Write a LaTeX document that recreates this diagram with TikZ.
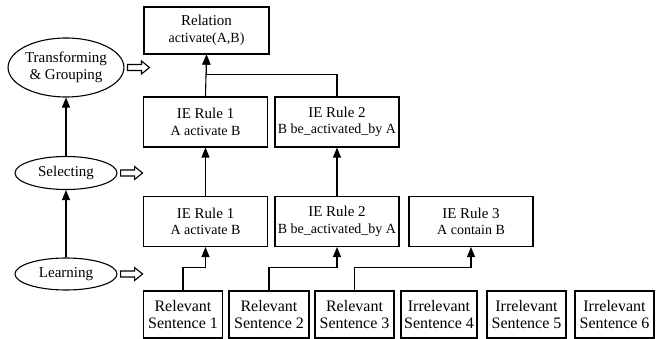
\documentclass[tikz,border=0pt]{standalone}
\usepackage{fontspec}
\setmainfont{Liberation Serif}
\usepackage{tikz}
\usetikzlibrary{calc}
\usetikzlibrary{arrows.meta}
\usetikzlibrary{shapes.geometric}

\tikzset{
	ruleBox/.style={draw, line width=1.1pt, minimum width=124pt, minimum height=50pt, align=center, inner sep=1pt, font=\fontsize{15}{16.5}\selectfont},
	sentBox/.style={draw, line width=1.1pt, minimum width=79pt, minimum height=47pt, align=center, inner sep=1pt, font=\fontsize{16}{17}\selectfont},
	stage/.style={draw, ellipse, line width=1.1pt, minimum width=102pt, inner sep=0pt, align=center, font=\fontsize{15}{17}\selectfont},
	link/.style={line width=1.1pt, -{Triangle[length=10pt,width=8pt]}},
	hollowArrow/.style={draw, line width=1.1pt, fill=white, line join=miter}
}
\newcommand{\subline}[1]{{\fontsize{14}{15}\selectfont #1}}

\begin{document}
\begin{tikzpicture}[x=1pt, y=-1pt]

	\useasboundingbox (0,0) rectangle (659,339);

	% stages on the left
	\def \stageX {66};
	\node [stage, minimum height=59pt] (trans) at (\stageX,67.5) {Transforming\\\& Grouping};
	\node [stage, minimum height=33pt] (sel) at (\stageX,173) {Selecting};
	\node [stage, minimum height=32pt] (learn) at (\stageX,274) {Learning};
	\draw [link] (learn) -- (sel);
	\draw [link] (sel) -- (trans);

	% hollow arrows pointing to the levels
	\foreach \stg in {trans, sel, learn}
		\draw [hollowArrow] ($(\stg.east)+(3,-3)$) -- ++(14,0) -- ++(0,-3.5) -- ++(8,6.5) -- ++(-8,6.5) -- ++(0,-3.5) -- ++(-14,0) -- cycle;

	% relation
	\node [ruleBox, minimum width=125pt, minimum height=47pt] (relation) at (206.5,30.5) {Relation\\\subline{activate(A,B)}};

	% selected rules
	\def \selY {122};
	\node [ruleBox] (selA) at (205.5,\selY) {IE Rule 1\\\subline{A activate B}};
	\node [ruleBox] (selB) at (337,\selY) {IE Rule 2\\\subline{B be\_activated\_by A}};

	% learned rules
	\def \learnY {221.5};
	\node [ruleBox] (ruleA) at (205.5,\learnY) {IE Rule 1\\\subline{A activate B}};
	\node [ruleBox] (ruleB) at (337,\learnY) {IE Rule 2\\\subline{B be\_activated\_by A}};
	\node [ruleBox] (ruleC) at (471,\learnY) {IE Rule 3\\\subline{A contain B}};

	% sentences
	\def \sentY {314.5};
	\node [sentBox] (sentA) at (183,\sentY) {Relevant\\Sentence 1};
	\node [sentBox, minimum width=80pt] (sentB) at (269,\sentY) {Relevant\\Sentence 2};
	\node [sentBox] (sentC) at (354.5,\sentY) {Relevant\\Sentence 3};
	\node [sentBox, minimum width=76pt] (sentD) at (439,\sentY) {Irrelevant\\Sentence 4};
	\node [sentBox] (sentE) at (526.5,\sentY) {Irrelevant\\Sentence 5};
	\node [sentBox] (sentF) at (614.5,\sentY) {Irrelevant\\Sentence 6};

	% sentences to learned rules
	\draw [link] (sentA.north) -- ++(0,-23) -| (ruleA.south);
	\draw [link] (sentB.north) -- ++(0,-23) -| (ruleB.south);
	\draw [link] (sentC.north) -- ++(0,-23) -| (ruleC.south);

	% learned rules to selected rules
	\draw [link] (ruleA.north) -- (selA.south);
	\draw [link] (ruleB.north) -- (selB.south);

	% selected rules to relation
	\draw [link] (selA.north) -- (relation.south);
	\draw [link] (selB.north) -- ++(0,-22) -| (relation.south);

\end{tikzpicture}
\end{document}
